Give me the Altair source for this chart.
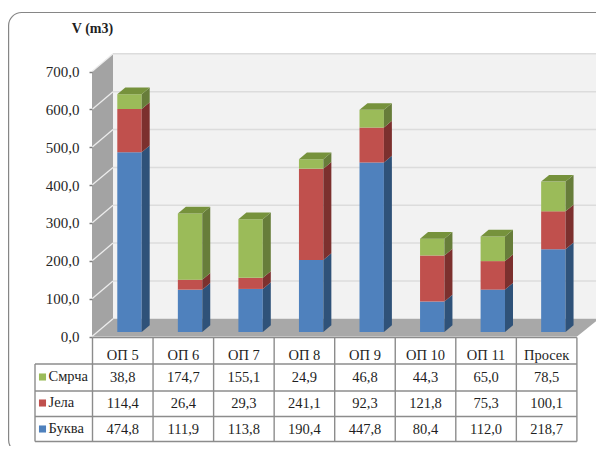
import altair as alt
import pandas as pd

categories = ["ОП 5", "ОП 6", "ОП 7", "ОП 8", "ОП 9", "ОП 10", "ОП 11", "Просек"]
smrca = [38.8, 174.7, 155.1, 24.9, 46.8, 44.3, 65.0, 78.5]
jela = [114.4, 26.4, 29.3, 241.1, 92.3, 121.8, 75.3, 100.1]
bukva = [474.8, 111.9, 113.8, 190.4, 447.8, 80.4, 112.0, 218.7]
ticks = [0, 100, 200, 300, 400, 500, 600, 700]
FONT = "Liberation Serif"
W, H = 588, 438
COL = 60.55
UNIT = 0.3785
X0, Y0 = 92.5, 336.5


def ux(px):
    return (px - X0) / COL


def uy(py):
    return (Y0 - py) / UNIT


xs = alt.Scale(domain=[ux(8), ux(8 + W)], range=[0, W], nice=False, zero=False)
ys = alt.Scale(domain=[uy(8 + H), uy(8)], range=[H, 0], nice=False, zero=False)
X = lambda f="x": alt.X(f"{f}:Q", scale=xs, axis=None, title=None)
Y = lambda f="y": alt.Y(f"{f}:Q", scale=ys, axis=None, title=None)


def polys(rows):
    return pd.DataFrame(rows, columns=["id", "fill", "x", "y", "y2"])


def area_layer(df):
    return alt.Chart(df).mark_area(interpolate="linear", strokeWidth=0).encode(
        x=X(), y=Y(), y2="y2:Q",
        detail="id:N",
        fill=alt.Fill("fill:N", scale=None, legend=None),
    )


# walls and floor
DX, DY = 21.0, 17.7
right_f, right_b = 577.0, 599.0
dyu = DY / UNIT
wall_rows = [
    ["back", "#f2f2f2", ux(92 + DX), 700 + dyu, dyu],
    ["back", "#f2f2f2", ux(right_b), 700 + dyu, dyu],
    ["left", "#a3a3a3", ux(92), 700, 0],
    ["left", "#a3a3a3", ux(92 + DX), 700 + dyu, dyu],
    ["floor", "#a8a8a8", ux(92), 0, 0],
    ["floor", "#a8a8a8", ux(92 + DX), dyu, 0],
    ["floor", "#a8a8a8", ux(right_f), dyu, 0],
    ["floor", "#a8a8a8", ux(right_b), dyu, dyu],
]
walls = area_layer(polys(wall_rows))

# y axis (same scale as the walls)
axis_layer = alt.Chart(pd.DataFrame({"v": ticks})).mark_tick(opacity=0).encode(
    y=alt.Y("v:Q", scale=ys, title=None, axis=alt.Axis(
        values=ticks, offset=-(92 - 8), domain=False, grid=False, tickSize=3, zindex=1,
        tickColor="#808080", tickWidth=1.5, labelFont=FONT, labelFontSize=15, labelColor="#262626",
        labelPadding=10, labelExpr="replace(format(datum.value,'.1f'),'.',',')",
    )),
    x=alt.value(84),
)

# gridlines
g1, g2 = [], []
for t in ticks:
    g1 += [{"t": t, "x": ux(92), "y": t}, {"t": t, "x": ux(92 + DX), "y": t + dyu}]
    if t > 0:
        g2 += [{"t": t, "x": ux(92 + DX), "y": t + dyu}, {"t": t, "x": ux(right_b), "y": t + dyu}]
grid_side = alt.Chart(pd.DataFrame(g1)).mark_line(color="#ececec", strokeWidth=1.3).encode(x=X(), y=Y(), detail="t:N")
grid_back = alt.Chart(pd.DataFrame(g2)).mark_line(color="#dcdcdc", strokeWidth=1.5).encode(x=X(), y=Y(), detail="t:N")

# stacked 3-D bars
BX0 = (117.3 - X0) / COL
BW = 24.4 / COL
BDX = 8.0 / COL
BDY = 6.7 / UNIT
BASE = 4.5 / UNIT
series = [
    ("Буква", bukva, "#4f81bd", "#2f5279", "#4f81bd"),
    ("Јела", jela, "#c0504d", "#7c302e", "#c0504d"),
    ("Смрча", smrca, "#9bbb59", "#677d3a", "#76923c"),
]
fronts, sides, tops = [], [], []
for i in range(len(categories)):
    low = BASE
    xl = i + BX0
    xr = xl + BW
    for name, vals, front, side, topc in series:
        hi = low + vals[i]
        fronts.append({"x": xl, "x2": xr, "y": low, "y2": hi, "fill": front})
        sides += [[f"{i}{name}", side, xr, hi, low], [f"{i}{name}", side, xr + BDX, hi + BDY, low + BDY]]
        low = hi
    tid = f"top{i}"
    tc = series[-1][4]
    tops += [[tid, tc, xl, low, low], [tid, tc, xl + BDX, low + BDY, low],
             [tid, tc, xr, low + BDY, low], [tid, tc, xr + BDX, low + BDY, low + BDY]]
front_layer = alt.Chart(pd.DataFrame(fronts)).mark_rect(strokeWidth=0).encode(
    x=X(), x2="x2:Q", y=Y(), y2="y2:Q", fill=alt.Fill("fill:N", scale=None, legend=None))
side_layer = area_layer(polys(sides))
top_layer = area_layer(polys(tops))

# data table
n = len(categories)
row_y = [337.5, 364.0, 391.0, 416.5, 441.5]
left_x = 35.0
line = "#8c8c8c"
hl = pd.DataFrame({"x": [0 if j == 0 else ux(left_x) for j in range(5)], "x2": [n] * 5, "py": [p - 8 for p in row_y]})
vl = pd.DataFrame({"x": list(range(n + 1)), "top": [row_y[0] - 8] * (n + 1), "bot": [row_y[4] - 8] * (n + 1)})
table_bg = alt.Chart(pd.DataFrame({"a": [1]})).mark_rect(fill="white").encode(
    x=alt.value(X0 - 8), x2=alt.value(right_f - 8), y=alt.value(row_y[0] - 8), y2=alt.value(row_y[4] - 8))
legend_bg = alt.Chart(pd.DataFrame({"a": [1]})).mark_rect(fill="white").encode(
    x=alt.value(left_x - 8), x2=alt.value(X0 - 8), y=alt.value(row_y[1] - 8), y2=alt.value(row_y[4] - 8))
hlines = alt.Chart(hl).mark_rule(color=line, strokeWidth=1.4).encode(
    x=X(), x2="x2:Q", y=alt.Y("py:Q", scale=None, axis=None))
vlines = alt.Chart(vl).mark_rule(color=line, strokeWidth=1.4).encode(
    x=X(), y=alt.Y("top:Q", scale=None, axis=None), y2="bot:Q")
left_edge = alt.Chart(pd.DataFrame({"a": [1]})).mark_rule(color=line, strokeWidth=1.4).encode(
    x=alt.value(left_x - 8), y=alt.value(row_y[1] - 8), y2=alt.value(row_y[4] - 8))

rows = [("Смрча", smrca, 378 - 8, "#9bbb59"), ("Јела", jela, 404 - 8, "#c0504d"), ("Буква", bukva, 430 - 8, "#4f81bd")]
cells = [{"x": i + 0.5, "py": 356 - 8, "t": categories[i]} for i in range(n)]
for name, vals, py, col in rows:
    for i in range(n):
        cells.append({"x": i + 0.5, "py": py, "t": f"{vals[i]:.1f}".replace(".", ",")})
cell_text = alt.Chart(pd.DataFrame(cells)).mark_text(font=FONT, fontSize=14.5, color="#1f1f1f", baseline="middle").encode(
    x=X(), y=alt.Y("py:Q", scale=None, axis=None), text="t:N")
leg = pd.DataFrame([{"t": r[0], "py": r[2] - 1, "c": r[3]} for r in rows])
leg_text = alt.Chart(leg).mark_text(font=FONT, fontSize=14.5, color="#1f1f1f", baseline="middle", align="left").encode(
    x=alt.value(48.5 - 8), y=alt.Y("py:Q", scale=None, axis=None), text="t:N")
leg_sw = alt.Chart(leg).mark_square(size=50, opacity=1).encode(
    x=alt.value(42.5 - 8), y=alt.Y("py:Q", scale=None, axis=None),
    color=alt.Color("c:N", scale=None, legend=None))

title = alt.Chart(pd.DataFrame({"t": ["V (m3)"]})).mark_text(
    font=FONT, fontSize=14, fontWeight="bold", color="#1f1f1f", baseline="middle", align="center").encode(
    x=alt.value(92.5 - 8), y=alt.value(29 - 8), text="t:N")
frame = alt.Chart(pd.DataFrame({"a": [1]})).mark_rect(
    fill="white", stroke="#868686", strokeWidth=1.2, cornerRadius=13).encode(
    x=alt.value(0.6), x2=alt.value(612 - 8), y=alt.value(12.5 - 8), y2=alt.value(453 - 8))

chart = alt.layer(
    frame, walls, grid_side, grid_back, axis_layer, front_layer, side_layer, top_layer,
    table_bg, legend_bg, hlines, vlines, left_edge, cell_text, leg_sw, leg_text, title,
).resolve_axis(y="independent").properties(
    width=W, height=H, padding=0, autosize=alt.AutoSizeParams(type="none"),
    background="white").configure_view(stroke=None)

chart.save("out.html", embed_options={"renderer": "svg", "actions": False})
